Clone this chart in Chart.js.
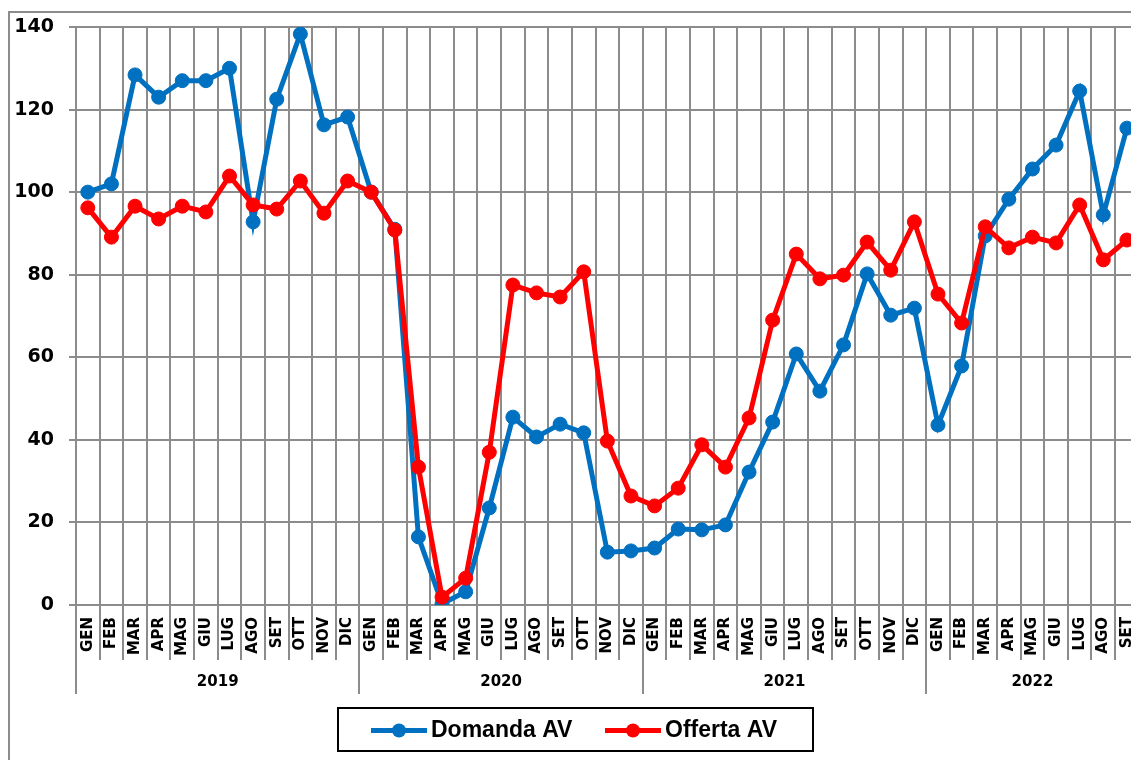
<!DOCTYPE html>
<html>
<head>
<meta charset="utf-8">
<script src="https://cdn.jsdelivr.net/npm/chart.js@4/dist/chart.umd.min.js"></script>
<style>
  body { margin: 0; overflow: hidden; background: #fff; }
  canvas { display: block; }
</style>
</head>
<body>
<canvas id="chart" width="1157" height="760"></canvas>
<script>
const months = ["GEN", "FEB", "MAR", "APR", "MAG", "GIU", "LUG", "AGO", "SET", "OTT", "NOV", "DIC"];
const years = ["2019", "2020", "2021", "2022"];
const monthsPerYear = [12, 12, 12, 9];

const domanda = [
  100, 102, 128.4, 123, 127, 127, 130, 92.8, 122.5, 138.3, 116.3, 118.2,
  100, 91, 16.5, 0.3, 3.2, 23.5, 45.5, 40.7, 43.8, 41.7, 12.8, 13.1,
  13.8, 18.4, 18.2, 19.4, 32.2, 44.3, 60.8, 51.8, 63, 80.2, 70.2, 71.9,
  43.6, 57.9, 89.4, 98.3, 105.6, 111.4, 124.5, 94.5, 115.5
];
const offerta = [
  96.2, 89.1, 96.6, 93.5, 96.6, 95.2, 103.9, 96.9, 95.9, 102.7, 94.9, 102.7,
  100, 90.8, 33.4, 1.9, 6.5, 37, 77.5, 75.6, 74.6, 80.7, 39.7, 26.4,
  24, 28.3, 38.8, 33.4, 45.3, 69, 85, 79, 79.9, 87.9, 81.1, 92.8,
  75.3, 68.3, 91.6, 86.5, 89.1, 87.7, 96.9, 83.6, 88.4
];
const yTicks = [0, 20, 40, 60, 80, 100, 120, 140];

const labels = [];
monthsPerYear.forEach((n) => {
  for (let i = 0; i < n; i++) labels.push(months[i]);
});

const gridColor = "#8c8c8c";
const blue = "#0070C0";
const red = "#FF0000";

// frame, year row and boxed legend
const extras = {
  id: "extras",
  beforeDraw(chart) {
    const ctx = chart.ctx;
    ctx.save();
    ctx.fillStyle = "#fff";
    ctx.fillRect(0, 0, chart.width, chart.height);
    ctx.strokeStyle = gridColor;
    ctx.lineWidth = 2;
    ctx.strokeRect(9, 12, chart.width + 20, chart.height + 20);
    ctx.restore();
  },
  afterDraw(chart) {
    const ctx = chart.ctx;
    const x = chart.scales.x;
    const bottom = chart.chartArea.bottom;
    const half = (x.getPixelForValue(1) - x.getPixelForValue(0)) / 2;
    ctx.save();
    ctx.strokeStyle = gridColor;
    ctx.lineWidth = 2;
    let starts = [0];
    monthsPerYear.forEach((n, i) => starts.push(starts[i] + n));
    for (let k = 0; k <= labels.length; k++) {
      const px = Math.round(x.getPixelForValue(0) - half + k * half * 2);
      const isYear = starts.includes(k);
      ctx.beginPath();
      ctx.moveTo(px, bottom);
      ctx.lineTo(px, bottom + (isYear ? 89 : 55));
      ctx.stroke();
    }
    ctx.fillStyle = "#000";
    ctx.font = "bold 15px 'DejaVu Sans'";
    ctx.textAlign = "center";
    ctx.textBaseline = "middle";
    years.forEach((yr, i) => {
      const a = x.getPixelForValue(starts[i]);
      const b = x.getPixelForValue(starts[i + 1] - 1);
      ctx.fillText(yr, (a + b) / 2, bottom + 77);
    });

    // legend
    const box = { x: 338, y: 708, w: 475, h: 43 };
    ctx.strokeStyle = "#000";
    ctx.lineWidth = 2;
    ctx.strokeRect(box.x, box.y, box.w, box.h);
    const cy = box.y + box.h / 2 + 1;
    const items = [
      { text: "Domanda AV", color: blue, x: box.x + 33 },
      { text: "Offerta AV", color: red, x: box.x + 267 }
    ];
    ctx.font = "bold 23px 'Liberation Sans'";
    ctx.textAlign = "left";
    items.forEach((it) => {
      ctx.strokeStyle = it.color;
      ctx.fillStyle = it.color;
      ctx.lineWidth = 5;
      ctx.beginPath();
      ctx.moveTo(it.x, cy);
      ctx.lineTo(it.x + 56, cy);
      ctx.stroke();
      ctx.beginPath();
      ctx.arc(it.x + 28, cy, 7, 0, Math.PI * 2);
      ctx.fill();
      ctx.fillStyle = "#000";
      ctx.fillText(it.text, it.x + 60, cy);
    });
    ctx.restore();
  }
};

new Chart(document.getElementById("chart"), {
  type: "line",
  data: {
    labels: labels,
    datasets: [
      {
        label: "Domanda AV",
        data: domanda,
        borderColor: blue,
        backgroundColor: blue,
        borderWidth: 5,
        pointRadius: 7,
        pointBorderWidth: 1,
        order: 1
      },
      {
        label: "Offerta AV",
        data: offerta,
        borderColor: red,
        backgroundColor: red,
        borderWidth: 5,
        pointRadius: 7,
        pointBorderWidth: 1,
        order: 0
      }
    ]
  },
  options: {
    responsive: false,
    animation: false,
    layout: { padding: { left: 0, top: 27, right: 5, bottom: 0 } },
    plugins: {
      legend: { display: false },
      tooltip: { enabled: false }
    },
    scales: {
      x: {
        offset: true,
        grid: { offset: true, color: gridColor, lineWidth: 2, drawTicks: false },
        border: { color: gridColor, width: 2 },
        ticks: {
          autoSkip: false,
          minRotation: 90,
          maxRotation: 90,
          padding: 12,
          color: "#000",
          font: { family: "DejaVu Sans", weight: "bold", size: 15 }
        },
        afterFit(scale) {
          scale.height = 155;
        }
      },
      y: {
        min: 0,
        max: 140,
        afterBuildTicks(scale) {
          scale.ticks = yTicks.map((v) => ({ value: v }));
        },
        grid: { color: gridColor, lineWidth: 2, tickLength: 7 },
        border: { color: gridColor, width: 2 },
        ticks: {
          padding: 15,
          color: "#000",
          font: { family: "DejaVu Sans", weight: "bold", size: 19 }
        },
        afterFit(scale) {
          scale.width = 76;
        }
      }
    }
  },
  plugins: [extras]
});
</script>
</body>
</html>
